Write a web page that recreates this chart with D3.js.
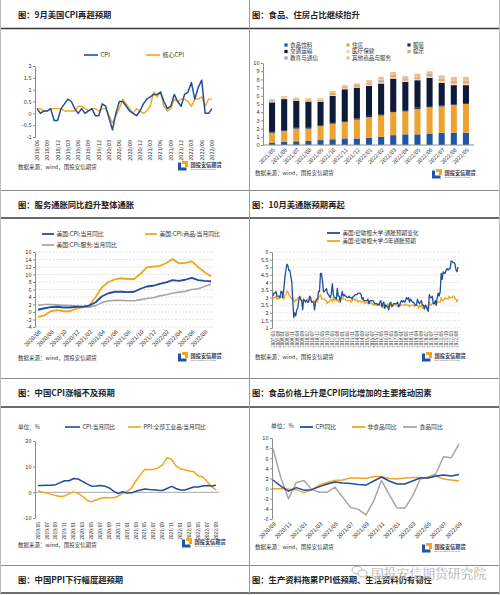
<!DOCTYPE html>
<html><head><meta charset="utf-8">
<script src="https://cdn.jsdelivr.net/npm/d3@7"></script>
<style>
html,body{margin:0;padding:0;background:#fff;}
svg{display:block;font-family:"Noto Sans CJK SC","Noto Sans",sans-serif;}
</style></head><body>
<svg id="c" width="500" height="595"></svg>
<script>
function months(y,m,n){const a=[];for(let i=0;i<n;i++){const yy=y+Math.floor((m-1+i)/12),mm=(m-1+i)%12+1;a.push(yy+"/"+String(mm).padStart(2,"0"));}return a;}

// ---------- Chart 1: US CPI MoM ----------
const c1Months = months(2018,6,52);
const c1Cpi  = [0.2,0.0,0.1,0.1,0.2,-0.3,-0.3, 0.2,0.4,0.6,0.5,0.2,0.0,0.2,0.0,0.1,0.2,-0.1,-0.1, 0.4,0.3,-0.2,-0.7,0.0,0.5,0.5,0.3,0.1,0.0,-0.1,0.1, 0.4,0.6,0.7,0.8,0.8,0.9,0.5,0.2,0.3,0.8,0.5,0.3, 0.8,0.9,1.3,0.6,1.1,1.4,0.0,0.0,0.2];
const c1Core = [0.2,0.2,0.1,0.1,0.2,0.2,0.2, 0.2,0.1,0.1,0.1,0.1,0.3,0.3,0.2,0.1,0.2,0.2,0.1, 0.2,0.2,-0.1,-0.4,-0.1,0.2,0.6,0.4,0.2,0.0,0.2,0.1, 0.0,0.1,0.3,0.9,0.7,0.9,0.3,0.1,0.2,0.6,0.5,0.6, 0.6,0.5,0.3,0.6,0.6,0.7,0.3,0.6,0.6];
const c1Ticks = [2,1.5,1,0.5,0,-0.5,-1];

// ---------- Chart 2: CPI contributions ----------
const c2Months = ["2021/05","2021/06","2021/07","2021/08","2021/09","2021/10","2021/11","2021/12","2022/01","2022/02","2022/03","2022/04","2022/05","2022/06","2022/07","2022/08","2022/09"];
const c2Food      = [0.3,0.4,0.45,0.5,0.6,0.7,0.8,0.8,0.9,1.0,1.2,1.3,1.3,1.4,1.5,1.5,1.5];
const c2Housing   = [1.2,1.3,1.55,1.5,1.7,1.9,2.0,2.3,2.5,2.6,2.8,2.8,3.1,3.2,3.2,3.4,3.5];
const c2Apparel   = [0.1,0.1,0.1,0.1,0.1,0.1,0.1,0.15,0.15,0.15,0.15,0.15,0.15,0.15,0.1,0.1,0.1];
const c2Transport = [3.6,3.8,3.3,3.2,2.9,3.3,3.9,3.75,3.65,3.75,3.95,3.45,3.35,3.45,2.8,2.3,2.2];
const c2Medical   = [0.1,0.1,0.1,0.1,0.1,0.1,0.1,0.1,0.15,0.15,0.15,0.15,0.15,0.15,0.2,0.2,0.2];
const c2Recreation= [0.1,0.05,0.1,0.1,0.1,0.15,0.1,0.1,0.15,0.2,0.2,0.15,0.2,0.2,0.2,0.25,0.25];
const c2Education = [0.05,0.05,0.05,0.05,0.05,0.1,0.1,0.1,0.1,0.1,0.1,0.1,0.1,0.1,0.1,0.1,0.1];
const c2Other     = [0.15,0.15,0.15,0.15,0.15,0.25,0.2,0.2,0.3,0.35,0.35,0.3,0.35,0.35,0.4,0.45,0.45];
const c2Names = ["食品饮料","住房","服装","交通运输","医疗保健","娱乐","教育与通信","其他商品与服务"];
const c2Ticks = [0,1,2,3,4,5,6,7,8,9,10];

// ---------- Chart 3: US CPI YoY ----------
const c3Months = months(2020,6,28);
const c3Cpi      = [0.6,1.0,1.3,1.4,1.2,1.2,1.4, 1.4,1.7,2.6,4.2,5.0,5.4,5.4,5.3,5.4,6.2,6.8,7.0, 7.5,7.9,8.5,8.3,8.6,9.1,8.5,8.3,8.2];
const c3Goods    = [-1.3,-0.9,0.2,0.5,0.2,0.2,0.9, 1.3,1.8,4.0,6.6,8.0,8.7,9.0,8.8,8.8,10.2,11.9,12.1, 12.3,13.0,14.1,13.0,13.1,13.5,12.0,10.6,9.5];
const c3Services = [1.8,2.0,2.0,1.9,1.8,1.7,1.6, 1.4,1.3,1.7,2.5,3.0,3.1,3.1,3.0,3.0,3.3,3.6,3.8, 4.3,4.6,5.0,5.3,5.5,6.0,6.2,6.8,7.4];
const c3Ticks = [16,14,12,10,8,6,4,2,0,-2,-4];

// ---------- Chart 4: Michigan inflation expectations ----------
const c4Months = months(2007,3,188);
const c4Exp1y = [3.1,3.3,3.3,3.4,3.1,3.1,3.1,3.0,3.4,3.4,
 3.0,3.6,4.3,4.8,5.2,5.1,4.8,4.8,4.4,4.0,2.8,1.7,
 2.0,1.8,2.2,2.3,2.8,3.1,2.9,2.8,2.2,2.9,2.8,2.7,
 2.8,2.7,2.7,3.1,3.0,2.7,2.7,2.7,2.2,2.7,2.9,2.9,
 3.4,3.4,4.6,4.6,4.1,3.4,3.4,3.5,3.6,3.3,3.2,3.1,
 3.0,3.3,3.9,3.2,3.0,3.0,2.9,3.6,3.1,3.1,2.7,3.1,
 3.4,3.1,3.2,3.1,3.1,3.0,3.0,3.1,3.0,3.0,2.9,3.1,
 3.1,3.2,3.2,3.2,3.3,3.3,3.3,3.2,2.9,3.0,2.8,2.8,
 2.8,2.8,2.9,2.6,2.8,2.8,2.8,2.8,2.7,2.6,2.6,2.6,
 2.5,2.5,2.7,2.8,2.4,2.6,2.7,2.3,2.5,2.4,2.4,2.2,
 2.6,2.7,2.4,2.5,2.6,2.6,2.6,2.6,2.7,2.4,2.5,2.7,
 2.8,2.7,2.8,2.7,2.8,3.0,2.9,3.0,2.7,2.9,2.8,2.7,
 2.7,2.6,2.5,2.5,2.9,2.7,2.6,2.7,2.8,2.5,2.5,2.3,
 2.5,2.4,2.2,2.1,3.2,3.0,3.0,3.1,2.6,2.6,2.8,2.5,
 3.0,3.3,3.1,3.4,4.6,4.2,4.7,4.6,4.6,4.8,4.9,4.8,
 4.9,4.9,5.4,5.4,5.3,5.3,5.2,4.8,4.7,5.0];
const c4Exp5y = [2.9,3.0,3.0,3.1,2.9,3.0,2.9,3.0,3.1,3.0,
 3.0,2.9,3.1,3.2,3.4,3.4,3.2,3.1,3.0,2.9,2.9,2.8,
 2.7,2.9,2.8,2.9,3.0,3.0,2.9,2.8,2.8,2.8,2.8,2.8,
 2.9,2.9,2.8,2.9,2.8,2.8,2.7,2.8,2.7,2.8,2.8,2.7,
 3.0,3.1,3.2,2.9,2.9,2.9,2.9,2.8,2.8,2.6,2.7,2.7,
 2.9,2.9,2.7,3.0,2.8,2.9,2.8,2.9,2.7,2.9,2.8,2.9,
 3.0,2.9,2.9,2.9,2.8,2.8,2.8,2.8,2.8,2.7,2.8,2.9,
 2.9,2.8,2.9,2.8,2.7,2.8,2.8,2.7,2.7,2.8,2.7,2.6,
 2.7,2.7,2.6,2.7,2.6,2.7,2.6,2.5,2.6,2.5,2.6,2.5,
 2.5,2.6,2.5,2.5,2.4,2.3,2.5,2.6,2.4,2.5,2.6,2.3,
 2.6,2.5,2.4,2.4,2.5,2.6,2.5,2.5,2.4,2.5,2.4,2.5,
 2.5,2.5,2.5,2.5,2.6,2.5,2.5,2.5,2.4,2.5,2.5,2.5,
 2.5,2.4,2.5,2.5,2.5,2.3,2.5,2.4,2.5,2.3,2.4,2.2,
 2.5,2.3,2.3,2.5,2.7,2.5,2.5,2.6,2.6,2.6,2.6,2.5,
 2.7,2.7,2.7,2.7,3.0,2.8,2.8,2.9,3.0,2.9,2.9,2.9,
 3.1,3.0,3.0,3.0,3.1,3.1,2.9,2.9,2.7,2.9];
const c4Ticks = [6,5.5,5,4.5,4,3.5,3,2.5,2,1.5,1];

// ---------- Chart 5: China CPI / PPI YoY ----------
const c5Months = months(2019,5,41);
const c5Cpi = [2.7,2.7,2.8,2.8,3.0,3.8,4.5,4.5, 5.4,5.2,4.3,3.3,2.4,2.5,2.7,2.4,1.7,0.5,-0.5,0.2, -0.3,-0.2,0.4,0.9,1.3,1.1,1.0,0.8,0.7,1.5,2.3,1.5, 0.9,0.9,1.5,2.1,2.1,2.5,2.7,2.5,2.8];
const c5Ppi = [0.6,0.0,-0.3,-0.8,-1.2,-1.6,-1.4,-0.5, 0.1,-0.4,-1.5,-3.1,-3.7,-3.0,-2.4,-2.0,-2.1,-2.1,-1.5,-0.4, 0.3,1.7,4.4,6.8,9.0,8.8,9.0,9.5,10.7,13.5,12.9,10.3, 9.1,8.8,8.3,8.0,6.4,6.1,4.2,2.3,0.9];
const c5Ticks = [20,10,0,-10];

// ---------- Chart 6: China CPI food / non-food ----------
const c6Months = months(2020,9,25);
const c6Cpi     = [1.7,0.5,-0.5,0.2,-0.3,-0.2,0.4,0.9,1.3,1.1,1.0,0.8,0.7,1.5,2.3,1.5,0.9,0.9,1.5,2.1,2.1,2.5,2.7,2.5,2.8];
const c6NonFood = [0.0,0.0,-0.1,-0.2,-0.8,-0.2,0.7,1.2,1.6,1.7,2.1,2.1,2.0,2.4,2.4,2.0,1.9,2.1,2.2,2.2,2.1,2.5,1.9,1.7,1.5];
const c6Food    = [7.9,2.2,-2.0,1.2,1.6,-0.2,-0.7,-0.7,0.3,-1.7,-3.7,-4.1,-5.2,-2.4,1.6,-1.2,-3.8,-3.9,-1.5,1.9,2.3,2.9,6.3,6.1,8.8];
const c6Ticks = [10,8,6,4,2,0,-2,-4,-6];

const titles = ["图：9月美国CPI再超预期","图：食品、住房占比继续抬升","图：服务通胀同比趋升整体通胀","图：10月美通胀预期再起",
 "图：中国CPI涨幅不及预期","图：食品价格上升是CPI同比增加的主要推动因素","图：中国PPI下行幅度超预期","图：生产资料拖累PPI低预期、生活资料仍有韧性"];
const sourceText = "数据来源：wind，国投安信期货";

// ================= drawing =================
const svg = d3.select("#c");
const FONT = '"Noto Sans CJK SC","Noto Sans",sans-serif';
const BLUE="#1F4E9D", ORANGE="#F3A51D", GRAY="#A6A6A6", TXT="#333";

svg.append("rect").attr("width",500).attr("height",595).attr("fill","#fff");

function hline(x1,x2,y,c,w,dash){const l=svg.append("line").attr("x1",x1).attr("x2",x2).attr("y1",y).attr("y2",y).attr("stroke",c).attr("stroke-width",w);if(dash)l.attr("stroke-dasharray",dash);return l;}
function vline(x,y1,y2,c,w){svg.append("line").attr("x1",x).attr("x2",x).attr("y1",y1).attr("y2",y2).attr("stroke",c).attr("stroke-width",w);}
function txt(x,y,s,fs,opt={}){const t=svg.append("text").attr("x",x).attr("y",y).attr("font-size",fs).attr("fill",opt.fill||TXT).attr("font-family",FONT).text(s);
 if(opt.anchor)t.attr("text-anchor",opt.anchor); if(opt.weight)t.attr("font-weight",opt.weight); if(opt.dy)t.attr("dy",opt.dy); if(opt.ls)t.attr("letter-spacing",opt.ls); return t;}

// frame
[190,378,565].forEach(y=>hline(0,500,y+0.5,"#8a8a8a",1));
[28.5,218,407,593].forEach(y=>hline(0,500,y,"#3a3a3a",1.3));
vline(249.5,0,595,"#9a9a9a",1);
vline(0.5,0,595,"#bbb",1);
vline(499.5,0,595,"#bbb",1);

// titles
const tPos=[[18,18],[252,18],[18,208],[252,208],[18,396],[252,396],[18,583],[252,583]];
titles.forEach((s,i)=>txt(tPos[i][0],tPos[i][1],s,8.3,{weight:700,fill:"#222"}));

function yAxis(y,x,ticks,fs){
 const g=svg.append("g").attr("transform",`translate(${x},0)`)
  .call(d3.axisLeft(y).tickValues(ticks).tickSize(2).tickSizeOuter(0).tickPadding(1.5).tickFormat(d=>String(d)));
 g.select(".domain").attr("stroke","#8c8c8c");
 g.selectAll(".tick line").attr("stroke","#8c8c8c");
 g.selectAll("text").attr("font-size",fs).attr("fill",TXT).attr("font-family",FONT);
 return g;
}
function xLabels(x,cats,every,yPos,rot,fs,off){
 cats.forEach((c,i)=>{ if(i%every) return;
  svg.append("text").attr("transform",`translate(${x(c)+(off||0)},${yPos}) rotate(${rot})`)
   .attr("text-anchor","end").attr("dy","0.35em").attr("font-size",fs).attr("fill",TXT).attr("font-family",FONT).text(c);
 });
}
function drawLine(x,y,cats,vals,color,w){
 svg.append("path").datum(vals).attr("fill","none").attr("stroke",color).attr("stroke-width",w)
  .attr("stroke-linejoin","round").attr("d",d3.line().x((d,i)=>x(cats[i])).y(d=>y(d)));
}
function legLine(x1,x2,y,color,w,label,fs){
 hline(x1,x2,y,color,w);
 txt(x2+2.5,y,label,fs,{dy:"0.35em"});
}
function logo(x,y){
 const g=svg.append("g").attr("transform",`translate(${x},${y})`);
 g.append("path").attr("d","M0,1.5 H3 V6.5 H8.5 V9.5 H0 Z").attr("fill","#1F55A5");
 g.append("path").attr("d","M4,0 H10 V6 H7 V3 H4 Z").attr("fill","#F3A51D");
 g.append("text").attr("x",12.5).attr("y",5.5).attr("font-size",5.2).attr("font-weight",700).attr("fill","#2a3550").attr("font-family",FONT).text("国投安信期货");
 g.append("text").attr("x",12.5).attr("y",9.3).attr("font-size",2.3).attr("fill","#777").attr("font-family","Roboto").text("SDIC ESSENCE FUTURES");
}

// ---------- Chart 1 ----------
{
 const x=d3.scalePoint().domain(c1Months).range([37,212]);
 const y=d3.scaleLinear().domain([-1,2]).range([137,66]);
 yAxis(y,35,c1Ticks,5.6);
 drawLine(x,y,c1Months,c1Core,ORANGE,1.4);
 drawLine(x,y,c1Months,c1Cpi,BLUE,1.5);
 xLabels(x,c1Months,3,140,-90,5.6);
 legLine(84,98,55,BLUE,1.6,"CPI",6);
 legLine(146,160,55,ORANGE,1.6,"核心CPI",6);
 txt(18,169,sourceText,5.5);
 logo(178,161);
}

// ---------- Chart 2 ----------
{
 const cols=["#1F55A5","#EEA330","#1C2F60","#0E1A3A","#F7D6A8","#E2A35C","#9FA4AD","#F2BE88"];
 const series=[c2Food,c2Housing,c2Apparel,c2Transport,c2Medical,c2Recreation,c2Education,c2Other];
 const rows=c2Months.map((m,i)=>{const r={m};c2Names.forEach((n,k)=>r[n]=series[k][i]);return r;});
 const stack=d3.stack().keys(c2Names)(rows);
 const x=d3.scaleBand().domain(c2Months).range([266,472]).paddingInner(0.5).paddingOuter(0.25);
 const y=d3.scaleLinear().domain([0,10]).range([145,63]);
 stack.forEach((s,k)=>{
  svg.append("g").selectAll("rect").data(s).join("rect")
   .attr("x",d=>x(d.data.m)).attr("width",x.bandwidth())
   .attr("y",d=>y(d[1])).attr("height",d=>Math.max(0,y(d[0])-y(d[1]))).attr("fill",cols[k]);
 });
 yAxis(y,263,c2Ticks,5.6);
 hline(263,474,145,"#8c8c8c",1);
 const xc=d3.scalePoint().domain(c2Months).range([x(c2Months[0])+x.bandwidth()/2, x(c2Months[16])+x.bandwidth()/2]);
 xLabels(xc,c2Months,1,149,-45,5.4,2);
 const lx=[286,348,409], ly=[45,51.5,58];
 c2Names.forEach((n,k)=>{
  const cx=lx[k%3], cy=ly[Math.floor(k/3)];
  svg.append("rect").attr("x",cx-1.6).attr("y",cy-1.6).attr("width",3.2).attr("height",3.2).attr("fill",cols[k]);
  txt(cx+4,cy,n,5.6,{dy:"0.35em"});
 });
 txt(255,175,sourceText,5.5);
 logo(432,169);
}

// ---------- Chart 3 ----------
{
 const x=d3.scalePoint().domain(c3Months).range([38,211]);
 const y=d3.scaleLinear().domain([-4,16]).range([327,252]);
 c3Ticks.forEach(t=>hline(35,214,y(t),"#d4d4d4",0.7,"2,1.5"));
 yAxis(y,35,c3Ticks,5.6);
 drawLine(x,y,c3Months,c3Services,GRAY,1.6);
 drawLine(x,y,c3Months,c3Goods,ORANGE,1.8);
 drawLine(x,y,c3Months,c3Cpi,BLUE,1.8);
 xLabels(x,c3Months,2,331,-45,5.6,2);
 legLine(42,54,234,BLUE,1.8,"美国:CPI:当月同比",5.8);
 legLine(145,157,234,ORANGE,1.8,"美国:CPI:商品:当月同比",5.8);
 legLine(42,54,245,GRAY,1.8,"美国:CPI:服务:当月同比",5.8);
 txt(18,360,sourceText,5.5);
 logo(178,352);
}

// ---------- Chart 4 ----------
{
 const x=d3.scalePoint().domain(c4Months).range([273,458]);
 const y=d3.scaleLinear().domain([1,6]).range([328,252]);
 c4Ticks.forEach(t=>hline(272,460,y(t),"#d4d4d4",0.7,"2,1.5"));
 yAxis(y,272,c4Ticks,5.4);
 drawLine(x,y,c4Months,c4Exp5y,ORANGE,1.3);
 drawLine(x,y,c4Months,c4Exp1y,BLUE,1.3);
 xLabels(x,c4Months,5,331,-90,4.5);
 legLine(327,340,233,BLUE,1.8,"美国:密歇根大学:通胀预期变化",5.6);
 legLine(327,340,241,ORANGE,1.8,"美国:密歇根大学:5年通胀预期",5.6);
 txt(255,359,sourceText,5.5);
 logo(422,352);
}

// ---------- Chart 5 ----------
{
 const x=d3.scalePoint().domain(c5Months).range([38,216]);
 const y=d3.scaleLinear().domain([-10,20]).range([518,441]);
 hline(35,219,y(0),"#a0a0a0",0.9);
 yAxis(y,35,c5Ticks,5.6);
 drawLine(x,y,c5Months,c5Ppi,ORANGE,1.5);
 drawLine(x,y,c5Months,c5Cpi,BLUE,1.5);
 xLabels(x,c5Months,2,522,-90,4.8);
 txt(18,427,"单位：%",5.6,{dy:"0.35em"});
 legLine(65,80,427,BLUE,1.6,"CPI:当月同比",5.6);
 legLine(128,141,427,ORANGE,1.6,"PPI:全部工业品:当月同比",5.6);
 txt(18,547,sourceText,5.5);
 logo(182,538);
}

// ---------- Chart 6 ----------
{
 const x=d3.scalePoint().domain(c6Months).range([273,459]);
 const y=d3.scaleLinear().domain([-6,10]).range([519,438]);
 yAxis(y,272,c6Ticks,5.6);
 drawLine(x,y,c6Months,c6Food,GRAY,1.5);
 drawLine(x,y,c6Months,c6NonFood,ORANGE,1.5);
 drawLine(x,y,c6Months,c6Cpi,BLUE,1.5);
 xLabels(x,c6Months,2,523,-45,5.6,2);
 txt(271,426,"单位：%",5.8,{dy:"0.35em"});
 legLine(300,313,427,BLUE,1.8,"CPI同比",5.8);
 legLine(352,365,427,ORANGE,1.8,"非食品同比",5.8);
 legLine(403,417,427,GRAY,1.8,"食品同比",5.8);
 txt(255,549,sourceText,5.5);
 logo(422,543);
}

// watermark
{
 const g=svg.append("g").attr("transform","translate(352,566)").attr("opacity",0.75);
 g.append("ellipse").attr("cx",5).attr("cy",4).attr("rx",5).attr("ry",3.8).attr("fill","#fff").attr("stroke","#888").attr("stroke-width",0.8);
 g.append("ellipse").attr("cx",10.5).attr("cy",7.5).attr("rx",4.5).attr("ry",3.4).attr("fill","#fff").attr("stroke","#888").attr("stroke-width",0.8);
 txt(371,578,"国投安信期货研究院",12.8,{fill:"#7a7a7a"}).attr("opacity",0.85).attr("stroke","#fff").attr("stroke-width",0.3);
}
</script>
</body></html>
